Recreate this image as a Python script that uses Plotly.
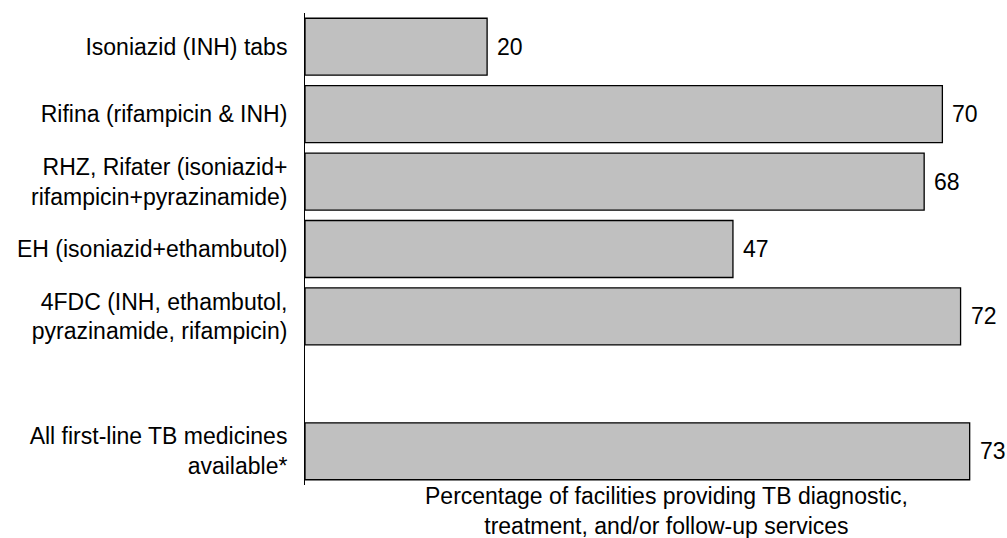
import plotly.graph_objects as go

# Medicines listed top to bottom; a blank slot separates the summary row
medicines = [
    "Isoniazid (INH) tabs",
    "Rifina (rifampicin & INH)",
    "RHZ, Rifater (isoniazid+<br>rifampicin+pyrazinamide)",
    "EH (isoniazid+ethambutol)",
    "4FDC (INH, ethambutol,<br>pyrazinamide, rifampicin)",
    " ",
    "All first-line TB medicines<br>available*",
]
percent = [20, 70, 68, 47, 72, None, 73]

FONT = "Arial, 'Liberation Sans', sans-serif"
SIZE = 23

fig = go.Figure(
    go.Bar(
        x=percent,
        y=medicines,
        orientation="h",
        marker=dict(color="#c0c0c0", line=dict(color="#000000", width=1.3)),
        hoverinfo="x+y",
    )
)

# Value labels just past the end of each bar
for name, val in zip(medicines, percent):
    if val is None:
        continue
    fig.add_annotation(
        x=val, y=name, xref="x", yref="y",
        text=str(val), showarrow=False,
        xanchor="left", xshift=8,
        font=dict(family=FONT, size=SIZE, color="#000000"),
    )

# Axis title centred beneath the bars
fig.add_annotation(
    x=0.523, y=0.0, xref="paper", yref="paper",
    xanchor="center", yanchor="top", yshift=4,
    text="Percentage of facilities providing TB diagnostic,<br>treatment, and/or follow-up services",
    showarrow=False,
    font=dict(family=FONT, size=SIZE, color="#000000"),
)

fig.update_layout(
    width=1007, height=538,
    margin=dict(l=305, r=10, t=13, b=53),
    paper_bgcolor="white", plot_bgcolor="white",
    bargap=0.155,
    showlegend=False,
    font=dict(family=FONT, size=SIZE, color="#000000"),
    xaxis=dict(
        range=[0, 76], visible=False, showgrid=False, zeroline=False,
    ),
    yaxis=dict(
        categoryorder="array", categoryarray=medicines,
        autorange="reversed",
        showline=True, linecolor="#000000", linewidth=1,
        showgrid=False, zeroline=False, ticks="",
        ticklabelstandoff=12,
        tickfont=dict(family=FONT, size=SIZE, color="#000000"),
    ),
)

fig.write_html("out.html")
